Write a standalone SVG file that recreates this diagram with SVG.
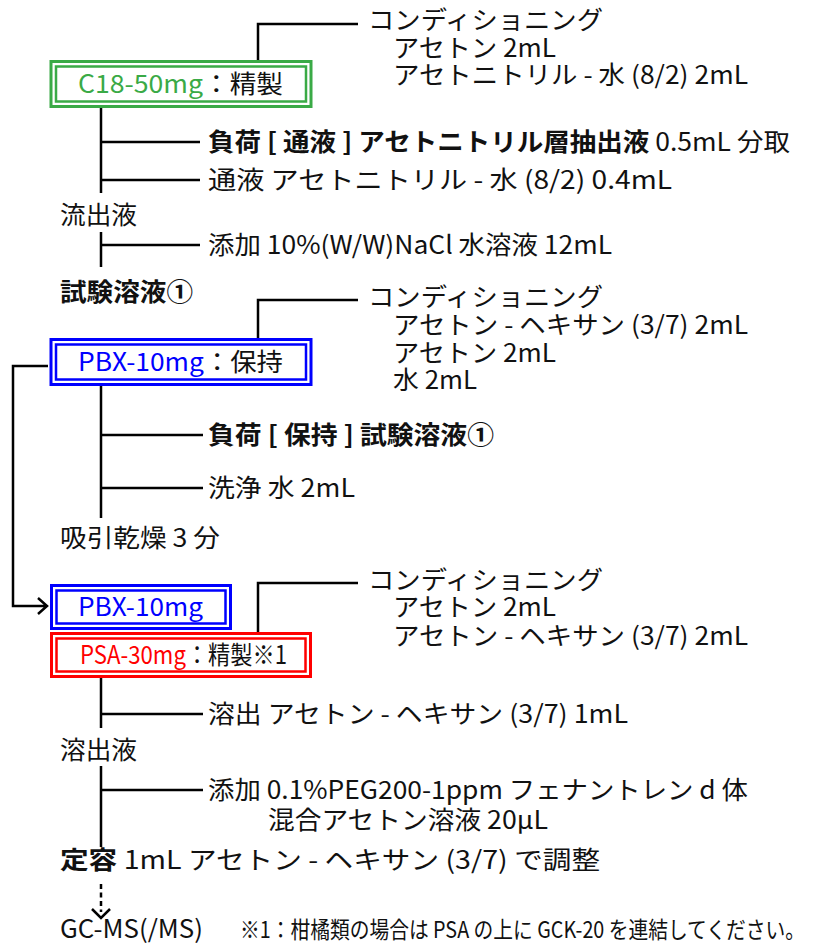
<svg xmlns="http://www.w3.org/2000/svg" width="816" height="947" viewBox="0 0 816 947">
<style>
text{font-family:"Noto Sans CJK JP","Noto Sans",sans-serif;font-size:25px;fill:#111}
.b{font-weight:bold}
.ln{fill:none;stroke:#000;stroke-width:2.5}
.box{fill:#fff;stroke-width:3}
.inner{fill:none;stroke-width:2.5}
.g{fill:#3aaa46}
.bl{fill:#0000ff}
.r{fill:#ff0000}
.sm{font-size:23px}
</style>
<rect width="816" height="947" fill="#fff"/>
<g id="connectors">
<path class="ln" d="M358 24H258V61"/>
<path class="ln" d="M101 108V193M101 232V267M101 142H200M101 180H200M101 245H200"/>
<path class="ln" d="M358 300H258V339"/>
<path class="ln" d="M48 366H13V606H46M38 598L47 606L38 614"/>
<path class="ln" d="M101 386V518M101 435H203M101 488H203"/>
<path class="ln" d="M358 583H258V633"/>
<path class="ln" d="M101 678V728M101 766V847M101 714H203M101 790H203"/>
<path class="ln" d="M101 884V912" stroke-dasharray="5,3.5"/>
<path class="ln" d="M92 909L101 918L110 909"/>
</g>
<g id="cond1">
<text x="368" y="29" textLength="235" lengthAdjust="spacingAndGlyphs">コンディショニング</text>
<text x="393" y="57" textLength="163" lengthAdjust="spacingAndGlyphs">アセトン 2mL</text>
<text x="393" y="84" textLength="355" lengthAdjust="spacingAndGlyphs">アセトニトリル - 水 (8/2) 2mL</text>
</g>
<g id="c18">
<rect class="box" x="51" y="61.5" width="260" height="45" stroke="#3aaa46"/>
<rect class="inner" x="56" y="66.5" width="250" height="35" stroke="#3aaa46"/>
<text x="78" y="93" textLength="205" lengthAdjust="spacingAndGlyphs"><tspan class="g">C18-50mg</tspan>：精製</text>
</g>
<g id="load1">
<text x="208" y="151" textLength="582" lengthAdjust="spacingAndGlyphs"><tspan class="b">負荷 [ 通液 ] アセトニトリル層抽出液</tspan> 0.5mL 分取</text>
</g>
<g id="pass1">
<text x="208" y="189" textLength="464" lengthAdjust="spacingAndGlyphs">通液 アセトニトリル - 水 (8/2) 0.4mL</text>
</g>
<g id="eluate1"><text x="60" y="224" textLength="77" lengthAdjust="spacingAndGlyphs">流出液</text></g>
<g id="add1">
<text x="208" y="254" textLength="404" lengthAdjust="spacingAndGlyphs">添加 10%(W/W)NaCl 水溶液 12mL</text>
</g>
<g id="sample1"><text class="b" x="60" y="301" textLength="133" lengthAdjust="spacingAndGlyphs">試験溶液①</text></g>
<g id="cond2">
<text x="368" y="306" textLength="235" lengthAdjust="spacingAndGlyphs">コンディショニング</text>
<text x="393" y="334" textLength="355" lengthAdjust="spacingAndGlyphs">アセトン - ヘキサン (3/7) 2mL</text>
<text x="393" y="362" textLength="163" lengthAdjust="spacingAndGlyphs">アセトン 2mL</text>
<text x="393" y="389" textLength="84" lengthAdjust="spacingAndGlyphs">水 2mL</text>
</g>
<g id="pbx1">
<rect class="box" x="51" y="339.5" width="260" height="45" stroke="#0000ff"/>
<rect class="inner" x="56" y="344.5" width="250" height="35" stroke="#0000ff"/>
<text x="78" y="371" textLength="205" lengthAdjust="spacingAndGlyphs"><tspan class="bl">PBX-10mg</tspan>：保持</text>
</g>
<g id="load2"><text class="b" x="208" y="444" textLength="286" lengthAdjust="spacingAndGlyphs">負荷 [ 保持 ] 試験溶液①</text></g>
<g id="wash2"><text x="208" y="497" textLength="147" lengthAdjust="spacingAndGlyphs">洗浄 水 2mL</text></g>
<g id="dry2"><text x="60" y="547" textLength="160" lengthAdjust="spacingAndGlyphs">吸引乾燥 3 分</text></g>
<g id="cond3">
<text x="368" y="589" textLength="235" lengthAdjust="spacingAndGlyphs">コンディショニング</text>
<text x="393" y="616" textLength="163" lengthAdjust="spacingAndGlyphs">アセトン 2mL</text>
<text x="393" y="645" textLength="355" lengthAdjust="spacingAndGlyphs">アセトン - ヘキサン (3/7) 2mL</text>
</g>
<g id="pbx2">
<rect class="box" x="51.5" y="585.5" width="179" height="43" stroke="#0000ff"/>
<rect class="inner" x="56.5" y="590.5" width="169" height="33" stroke="#0000ff"/>
<text class="bl" x="78" y="616" textLength="125" lengthAdjust="spacingAndGlyphs">PBX-10mg</text>
</g>
<g id="psa">
<rect class="box" x="51.5" y="633.5" width="259" height="43" stroke="#ff0000"/>
<rect class="inner" x="56.5" y="638.5" width="249" height="33" stroke="#ff0000"/>
<text x="80" y="664" textLength="207" lengthAdjust="spacingAndGlyphs"><tspan class="r">PSA-30mg</tspan>：精製※1</text>
</g>
<g id="elute3"><text x="208" y="723" textLength="420" lengthAdjust="spacingAndGlyphs">溶出 アセトン - ヘキサン (3/7) 1mL</text></g>
<g id="eluate3"><text x="60" y="759" textLength="77" lengthAdjust="spacingAndGlyphs">溶出液</text></g>
<g id="add3">
<text x="208" y="799" textLength="540" lengthAdjust="spacingAndGlyphs">添加 0.1%PEG200-1ppm フェナントレン d 体</text>
<text x="268" y="829" textLength="280" lengthAdjust="spacingAndGlyphs">混合アセトン溶液 20μL</text>
</g>
<g id="volume"><text x="60" y="869" textLength="540" lengthAdjust="spacingAndGlyphs"><tspan class="b">定容</tspan> 1mL アセトン - ヘキサン (3/7) で調整</text></g>
<g id="gcms"><text x="60" y="938" textLength="143" lengthAdjust="spacingAndGlyphs">GC-MS(/MS)</text></g>
<g id="note"><text class="sm" x="240" y="938" textLength="565" lengthAdjust="spacingAndGlyphs">※1：柑橘類の場合は PSA の上に GCK-20 を連結してください。</text></g>
</svg>
